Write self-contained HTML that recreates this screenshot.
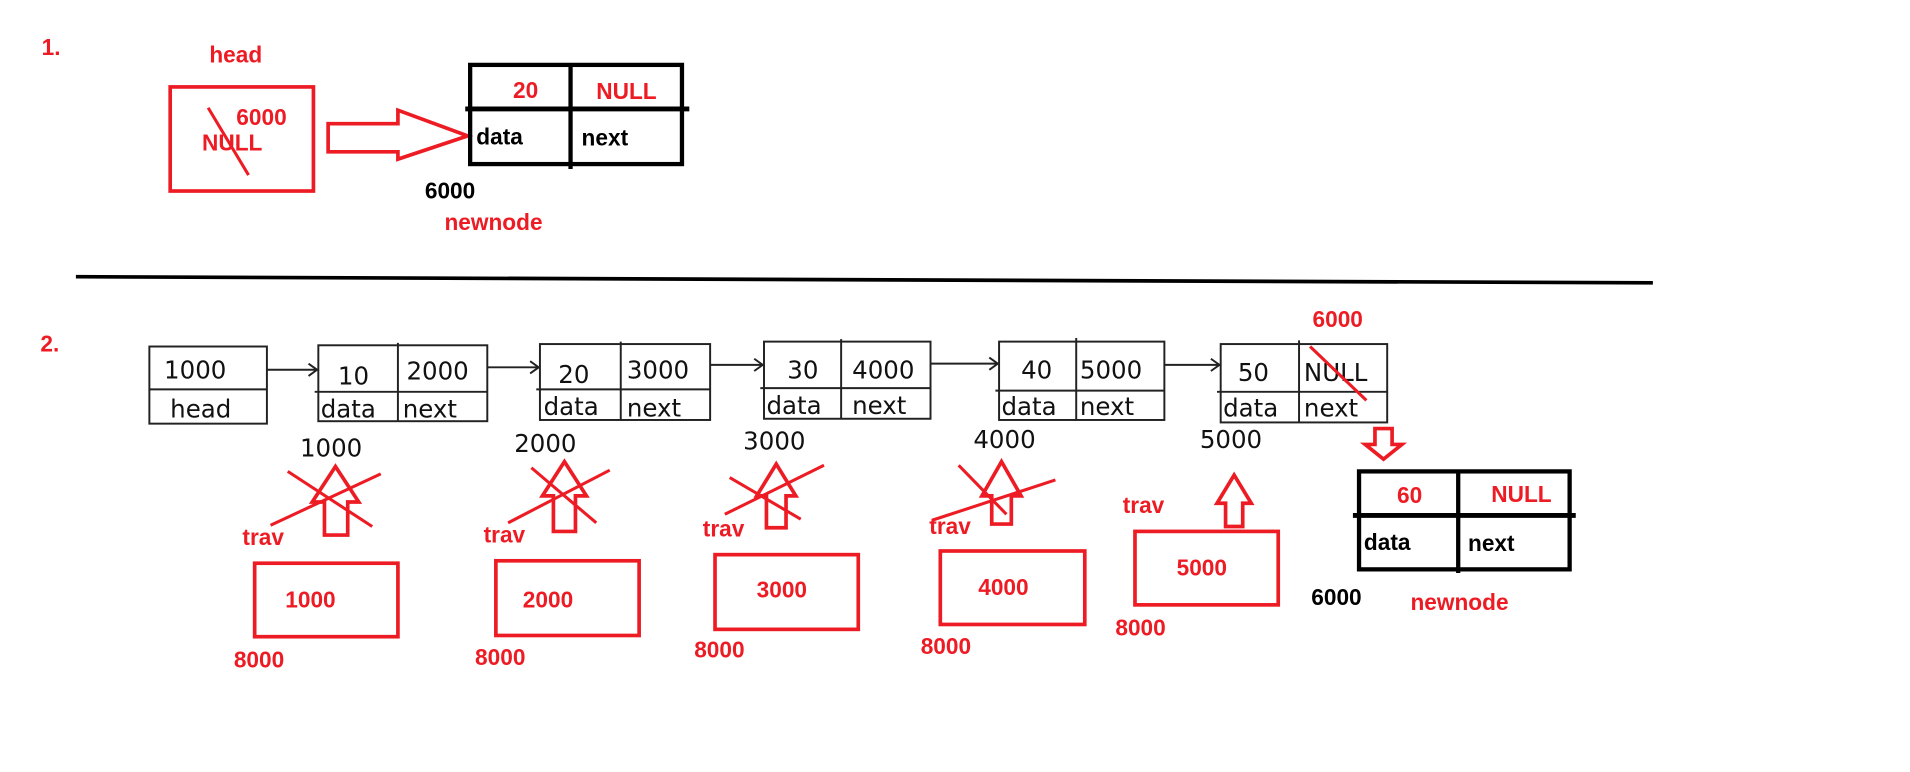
<!DOCTYPE html>
<html><head><meta charset="utf-8"><style>
html,body{margin:0;padding:0;background:#fff;}
svg{display:block;}
.r{fill:#ed1c24;font-family:"Liberation Sans",sans-serif;font-weight:bold;font-size:18.5px;}
.k{fill:#000;font-family:"Liberation Sans",sans-serif;font-weight:bold;font-size:18.5px;}
.n{fill:#111;font-family:"DejaVu Sans","Liberation Sans",sans-serif;font-size:20px;}
.rs{fill:none;stroke:#ed1c24;stroke-width:3;}
.bs{fill:none;stroke:#000;stroke-width:3.5;}
.ts{fill:none;stroke:#222;stroke-width:1.6;}
</style></head><body>
<svg width="1910" height="772" viewBox="0 0 1560 630.5" preserveAspectRatio="none" xmlns="http://www.w3.org/2000/svg">
<text class="r" x="34" y="45">1.</text>
<text class="r" x="171" y="51">head</text>
<rect class="rs" x="139" y="71" width="117" height="85"/>
<text class="r" x="193" y="102">6000</text>
<text class="r" x="165" y="123">NULL</text>
<line x1="170" y1="88" x2="203" y2="143" stroke="#ed1c24" stroke-width="2.5"/>
<path class="rs" d="M268,101 L325,101 L325,90 L382,111 L325,130 L325,124 L268,124 Z"/>
<rect class="bs" x="384" y="53" width="173" height="81"/>
<line x1="380" y1="89" x2="563" y2="89" stroke="#000" stroke-width="4"/>
<line x1="466" y1="53" x2="466" y2="138" stroke="#000" stroke-width="3.5"/>
<text class="r" x="419" y="80">20</text>
<text class="r" x="487" y="81">NULL</text>
<text class="k" x="389" y="118">data</text>
<text class="k" x="475" y="119">next</text>
<text class="k" x="347" y="162">6000</text>
<text class="r" x="363" y="188">newnode</text>
<path d="M62,226 L1350,231" stroke="#000" stroke-width="3"/>

<text class="r" x="33" y="287">2.</text>
<rect class="ts" x="122" y="283" width="96" height="63"/>
<line class="ts" x1="122" y1="318" x2="218" y2="318"/>
<text class="n" x="134" y="309">1000</text>
<text class="n" x="139" y="341">head</text>
<g stroke="#222" stroke-width="1.6" fill="none">
<path d="M218,302 H259 M252,297 L259,302 L252,307"/>
<path d="M398,300 H440 M433,295 L440,300 L433,305"/>
<path d="M580,298 H623 M616,293 L623,298 L616,303"/>
<path d="M760,297 H815 M808,292 L815,297 L808,302"/>
<path d="M951,298 H996 M989,293 L996,298 L989,303"/>
</g>
<rect class="ts" x="260" y="282" width="138" height="62"/>
<line class="ts" x1="257" y1="320" x2="398" y2="320"/>
<line class="ts" x1="325" y1="280" x2="325" y2="344"/>
<text class="n" x="276" y="314">10</text><text class="n" x="332" y="310">2000</text>
<text class="n" x="262" y="341">data</text><text class="n" x="329" y="341">next</text>
<rect class="ts" x="441" y="281" width="139" height="62"/>
<line class="ts" x1="438" y1="318" x2="580" y2="318"/>
<line class="ts" x1="507" y1="279" x2="507" y2="343"/>
<text class="n" x="456" y="313">20</text><text class="n" x="512" y="309">3000</text>
<text class="n" x="444" y="339">data</text><text class="n" x="512" y="340">next</text>
<rect class="ts" x="624" y="279" width="136" height="63"/>
<line class="ts" x1="621" y1="317" x2="760" y2="317"/>
<line class="ts" x1="687" y1="277" x2="687" y2="342"/>
<text class="n" x="643" y="309">30</text><text class="n" x="696" y="309">4000</text>
<text class="n" x="626" y="338">data</text><text class="n" x="696" y="338">next</text>
<rect class="ts" x="816" y="279" width="135" height="64"/>
<line class="ts" x1="813" y1="319" x2="951" y2="319"/>
<line class="ts" x1="879" y1="276" x2="879" y2="343"/>
<text class="n" x="834" y="309">40</text><text class="n" x="882" y="309">5000</text>
<text class="n" x="818" y="339">data</text><text class="n" x="882" y="339">next</text>
<rect class="ts" x="997" y="281" width="136" height="64"/>
<line class="ts" x1="994" y1="320" x2="1133" y2="320"/>
<line class="ts" x1="1061" y1="278" x2="1061" y2="345"/>
<text class="n" x="1011" y="311">50</text><text class="n" x="1065" y="311">NULL</text>
<text class="n" x="999" y="340">data</text><text class="n" x="1065" y="340">next</text>
<line x1="1070" y1="283" x2="1116" y2="327" stroke="#ed1c24" stroke-width="2.5"/>
<text class="r" x="1072" y="267">6000</text>
<text class="n" x="245" y="373">1000</text>
<text class="n" x="420" y="369">2000</text>
<text class="n" x="607" y="367">3000</text>
<text class="n" x="795" y="366">4000</text>
<text class="n" x="980" y="366">5000</text>

<g class="rs">
<path d="M274,381 L293,410 L284,410 L284,437 L265,437 L265,410 L255,410 Z"/>
<path d="M461,377 L479,405 L470,405 L470,434 L452,434 L452,405 L443,405 Z"/>
<path d="M634,379 L650,405 L642,405 L642,431 L626,431 L626,405 L618,405 Z"/>
<path d="M818,377 L834,405 L826,405 L826,428 L810,428 L810,405 L802,405 Z"/>
<path d="M1008,388 L1022,411 L1015,411 L1015,430 L1001,430 L1001,411 L994,411 Z"/>
</g>
<g stroke="#ed1c24" stroke-width="2.5">
<line x1="235" y1="385" x2="304" y2="430"/><line x1="311" y1="387" x2="221" y2="429"/>
<line x1="434" y1="382" x2="487" y2="427"/><line x1="498" y1="384" x2="415" y2="427"/>
<line x1="596" y1="390" x2="654" y2="424"/><line x1="673" y1="380" x2="592" y2="420"/>
<line x1="783" y1="380" x2="822" y2="420"/><line x1="862" y1="392" x2="761" y2="425"/>
</g>
<text class="r" x="198" y="445">trav</text>
<text class="r" x="395" y="443">trav</text>
<text class="r" x="574" y="438">trav</text>
<text class="r" x="759" y="436">trav</text>
<text class="r" x="917" y="419">trav</text>
<rect class="rs" x="208" y="460" width="117" height="60"/>
<text class="r" x="233" y="496">1000</text><text class="r" x="191" y="545">8000</text>
<rect class="rs" x="405" y="458" width="117" height="61"/>
<text class="r" x="427" y="496">2000</text><text class="r" x="388" y="543">8000</text>
<rect class="rs" x="584" y="453" width="117" height="61"/>
<text class="r" x="618" y="488">3000</text><text class="r" x="567" y="537">8000</text>
<rect class="rs" x="768" y="450" width="118" height="60"/>
<text class="r" x="799" y="486">4000</text><text class="r" x="752" y="534">8000</text>
<rect class="rs" x="927" y="434" width="117" height="60"/>
<text class="r" x="961" y="470">5000</text><text class="r" x="911" y="519">8000</text>

<path class="rs" d="M1123,350 L1137,350 L1137,363 L1145,363 L1130,375 L1115,363 L1123,363 Z"/>
<rect class="bs" x="1110" y="385" width="172" height="80"/>
<line x1="1105" y1="421" x2="1287" y2="421" stroke="#000" stroke-width="4"/>
<line x1="1191" y1="385" x2="1191" y2="468" stroke="#000" stroke-width="3.5"/>
<text class="r" x="1141" y="411">60</text>
<text class="r" x="1218" y="410">NULL</text>
<text class="k" x="1114" y="449">data</text>
<text class="k" x="1199" y="450">next</text>
<text class="k" x="1071" y="494">6000</text>
<text class="r" x="1152" y="498">newnode</text>
</svg>
</body></html>
